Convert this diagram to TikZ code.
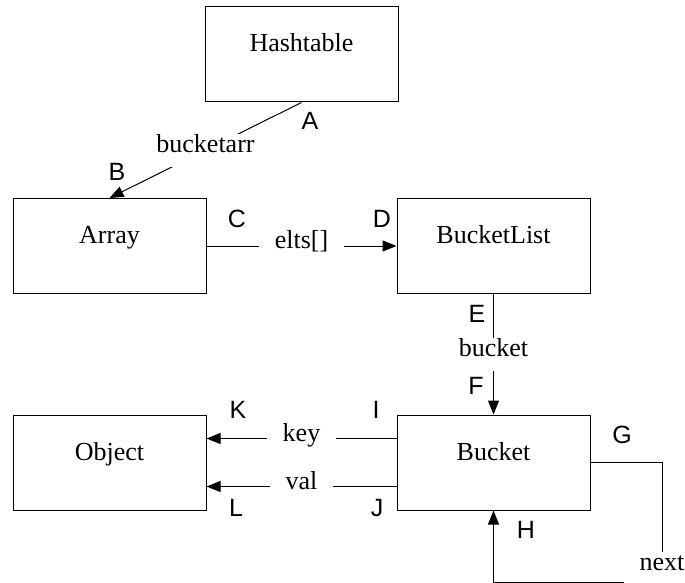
\documentclass[tikz,border=0pt]{standalone}
\usepackage{fontspec}
\setmainfont{Liberation Serif}
\setsansfont{Liberation Sans}
\usetikzlibrary{arrows.meta, calc}

\begin{document}
\begin{tikzpicture}[x=1pt, y=-1pt,
    cls/.style={rectangle, draw, line width=1pt, minimum width=193pt, inner sep=0pt, text height=45pt, text depth=50pt, font=\fontsize{26}{30}\selectfont},
    lbl/.style={fill=white, inner xsep=16pt, inner ysep=2pt, text height=17pt, text depth=12pt, font=\fontsize{26}{30}\selectfont},
    role/.style={inner sep=0pt, font=\sffamily\fontsize{25}{29}\selectfont},
    link/.style={-{Triangle[length=14pt, width=11pt]}, line width=1pt}]
    \useasboundingbox (0,0) rectangle (685,583);

    % Classes
    \node [cls] (hash) at (301.5,54.5) {Hashtable};
    \node [cls] (array) at (109.5,246) {Array};
    \node [cls] (blist) at (493.5,246) {BucketList};
    \node [cls] (object) at (109.5,462.5) {Object};
    \node [cls] (bucket) at (493.5,462.5) {Bucket};

    % Attachment points
    \coordinate (kin) at ($(bucket.north west)!.5!(bucket.west)$);
    \coordinate (vin) at ($(bucket.south west)!.5!(bucket.west)$);
    \coordinate (nx) at (662,582);

    % Arrows
    \draw [link] (hash.south) -- (array.north) node [lbl, midway] (arrlbl) {bucketarr};
    \draw [link] (array.east) -- (blist.west) node [lbl, midway] (eltslbl) {elts[]};
    \draw [link] (blist.south) -- (bucket.north) node [lbl, midway] (bktlbl) {bucket};
    \draw [link] (kin) -- (kin -| object.east) node [lbl, midway] (keylbl) {key};
    \draw [link] (vin) -- (vin -| object.east) node [lbl, midway] (vallbl) {val};
    \draw [link] (bucket.east) -| (nx) -| (bucket.south);
    \node [lbl] (nextlbl) at (662,568) {next};

    % End labels
    \node [role] (la) at (310,121) {A};
    \node [role] (lb) at (117,172) {B};
    \node [role] (lc) at (237,219) {C};
    \node [role] (ld) at (382,219) {D};
    \node [role] (le) at (477,314) {E};
    \node [role] (lf) at (476,386) {F};
    \node [role] (lg) at (622,435) {G};
    \node [role] (lh) at (526,530) {H};
    \node [role] (li) at (376,410) {I};
    \node [role] (lj) at (377,508) {J};
    \node [role] (lk) at (238,410) {K};
    \node [role] (ll) at (236,508) {L};

\end{tikzpicture}
\end{document}
